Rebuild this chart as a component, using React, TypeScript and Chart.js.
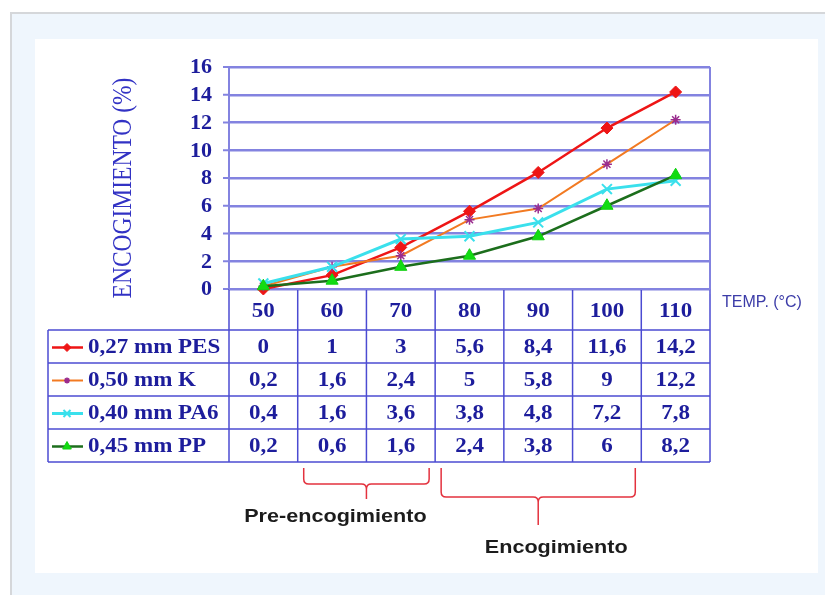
import React, { useEffect, useRef } from "react";
import { Chart, registerables } from "chart.js";
import { drawPoint } from "chart.js/helpers";

Chart.register(...registerables);

// ---------------- data ----------------
const temperatures = ["50", "60", "70", "80", "90", "100", "110"];
const seriesNames = ["0,27 mm PES", "0,50 mm K", "0,40 mm PA6", "0,45 mm PP"];
const pesValues = [0, 1, 3, 5.6, 8.4, 11.6, 14.2];
const kValues = [0.2, 1.6, 2.4, 5, 5.8, 9, 12.2];
const pa6Values = [0.4, 1.6, 3.6, 3.8, 4.8, 7.2, 7.8];
const ppValues = [0.2, 0.6, 1.6, 2.4, 3.8, 6, 8.2];
const yMin = 0;
const yMax = 16;
const yStep = 2;
const yAxisTitle = "ENCOGIMIENTO (%)";
const xAxisTitle = "TEMP. (°C)";
const phaseLabels = ["Pre-encogimiento", "Encogimiento"];
const phaseFrom = ["60", "80"];
const phaseTo = ["70", "100"];

// ---------------- styles / layout ----------------
const W = 825;
const H = 595;
const HEADER_H = 41;
const ROW_H = 33;
const LEGEND_LEFT = 48;
const GRID = "#8383e0";
const TABLE_LINE = "#4b4bd2";
const TEXT_BLUE = "#1d1d9c";
const SERIF = "'Liberation Serif', 'Times New Roman', serif";
const SANS = "'Liberation Sans', Arial, sans-serif";

const seriesStyles = [
  { line: "#ee1515", width: 2.5, pointStyle: "rectRot", radius: 6, fill: "#ee1515", stroke: "#ee1515", pbw: 1 },
  { line: "#f27a22", width: 2, pointStyle: "star", radius: 5, fill: "#9a2c8e", stroke: "#9a2c8e", pbw: 1.5 },
  { line: "#3ae0ec", width: 3, pointStyle: "crossRot", radius: 7, fill: "#3ae0ec", stroke: "#3ae0ec", pbw: 2 },
  { line: "#1c6e1c", width: 2.5, pointStyle: "triangle", radius: 7, fill: "#12dc12", stroke: "#12d012", pbw: 1 },
];
const seriesValues = [pesValues, kValues, pa6Values, ppValues];
const bracketGeom = [
  { top: 468, bar: 484, tip: 499, textDx: -31, textY: 517 },
  { top: 468, bar: 497, tip: 525, textDx: 18, textY: 548 },
];

const fmt = (v: number) => String(v).replace(".", ",");

function txt(
  ctx: CanvasRenderingContext2D,
  s: string,
  x: number,
  y: number,
  font: string,
  color: string,
  align: CanvasTextAlign,
  sx = 1
) {
  ctx.save();
  ctx.font = font;
  ctx.fillStyle = color;
  ctx.textAlign = align;
  ctx.textBaseline = "middle";
  ctx.translate(x, y);
  ctx.scale(sx, 1);
  ctx.fillText(s, 0, 0);
  ctx.restore();
}

function line(ctx: CanvasRenderingContext2D, x1: number, y1: number, x2: number, y2: number) {
  ctx.beginPath();
  ctx.moveTo(x1, y1);
  ctx.lineTo(x2, y2);
  ctx.stroke();
}

const backgroundPlugin = {
  id: "bgPanel",
  beforeDraw(chart: any) {
    const ctx = chart.ctx as CanvasRenderingContext2D;
    ctx.save();
    ctx.fillStyle = "#ffffff";
    ctx.fillRect(0, 0, W, H);
    ctx.fillStyle = "#eff6fd";
    ctx.fillRect(10, 12, W, H);
    ctx.strokeStyle = "#d5d7da";
    ctx.lineWidth = 2;
    ctx.strokeRect(11, 13, W + 10, H + 10);
    ctx.fillStyle = "#ffffff";
    ctx.fillRect(35, 39, 818 - 35, 573 - 39);
    ctx.restore();
  },
};

const tablePlugin = {
  id: "dataTable",
  beforeDatasetsDraw(chart: any) {
    const ctx = chart.ctx as CanvasRenderingContext2D;
    const area = chart.chartArea;
    const xs = chart.scales.x;
    const ys = chart.scales.y;
    const n = temperatures.length;
    const centers = temperatures.map((_, i) => xs.getPixelForValue(i));
    const half = n > 1 ? (centers[1] - centers[0]) / 2 : (area.right - area.left) / 2;
    const bounds: number[] = [area.left];
    for (let i = 0; i < n - 1; i++) bounds.push((centers[i] + centers[i + 1]) / 2);
    bounds.push(area.right);

    ctx.save();
    // y tick marks & axis borders
    ctx.strokeStyle = GRID;
    ctx.lineWidth = 2;
    ys.ticks.forEach((t: any) => {
      const py = ys.getPixelForValue(t.value);
      line(ctx, area.left - 6, py, area.left, py);
    });
    line(ctx, area.left, area.top, area.left, area.bottom);
    line(ctx, area.right, area.top, area.right, area.bottom);

    // table grid
    const tableTop = area.bottom;
    const headBottom = tableTop + HEADER_H;
    const tableBottom = headBottom + ROW_H * seriesNames.length;
    ctx.strokeStyle = TABLE_LINE;
    ctx.lineWidth = 1.5;
    bounds.forEach((bx) => line(ctx, bx, tableTop, bx, tableBottom));
    line(ctx, LEGEND_LEFT, headBottom, LEGEND_LEFT, tableBottom);
    for (let r = 0; r <= seriesNames.length; r++) {
      const ry = headBottom + r * ROW_H;
      line(ctx, LEGEND_LEFT, ry, area.right, ry);
    }
    ctx.strokeStyle = GRID;
    ctx.lineWidth = 2;
    line(ctx, area.left, tableTop, area.right, tableTop);
    ctx.lineWidth = 1;
    line(ctx, area.right, tableTop, area.right, tableTop + 5);

    // y tick labels
    ys.ticks.forEach((t: any) => {
      const py = ys.getPixelForValue(t.value);
      txt(ctx, String(t.value), area.left - 17, py + 1, `bold 21px ${SERIF}`, TEXT_BLUE, "right", 1.05);
    });

    // y axis title
    ctx.save();
    ctx.translate(124, (area.top + area.bottom) / 2 + 10);
    ctx.rotate(-Math.PI / 2);
    ctx.scale(1, 1.15);
    ctx.font = `23.5px ${SERIF}`;
    ctx.fillStyle = "#3232c4";
    ctx.textAlign = "center";
    ctx.textBaseline = "middle";
    ctx.fillText(yAxisTitle, 0, 0);
    ctx.restore();

    // x axis title
    txt(ctx, xAxisTitle, area.right + 12, area.bottom + 14, `16px ${SANS}`, "#3c3ca8", "left", 1);

    // header labels
    temperatures.forEach((lab, i) => {
      txt(ctx, lab, centers[i], tableTop + HEADER_H / 2 + 2, `bold 20px ${SERIF}`, TEXT_BLUE, "center", 1.15);
    });

    // rows
    seriesNames.forEach((name, r) => {
      const cy = headBottom + r * ROW_H + ROW_H / 2 + 1;
      const st = seriesStyles[r];
      ctx.strokeStyle = st.line;
      ctx.lineWidth = st.width;
      line(ctx, LEGEND_LEFT + 4, cy, LEGEND_LEFT + 35, cy);
      ctx.fillStyle = st.fill;
      ctx.strokeStyle = st.stroke;
      ctx.lineWidth = st.pbw;
      drawPoint(ctx, { pointStyle: st.pointStyle as any, rotation: 0, radius: st.radius - 2, borderWidth: st.pbw }, LEGEND_LEFT + 19, cy);
      txt(ctx, name, LEGEND_LEFT + 40, cy, `bold 20px ${SERIF}`, TEXT_BLUE, "left", 1.15);
      seriesValues[r].forEach((v, i) => {
        txt(ctx, fmt(v), centers[i], cy, `bold 20px ${SERIF}`, TEXT_BLUE, "center", 1.15);
      });
    });

    // brackets
    ctx.strokeStyle = "#e3323e";
    ctx.lineWidth = 1.5;
    phaseLabels.forEach((lab, k) => {
      const a = temperatures.indexOf(phaseFrom[k]);
      const b = temperatures.indexOf(phaseTo[k]);
      const g = bracketGeom[k];
      const left = centers[a] - half + 6;
      const right = centers[b] + half - 6;
      const mid = (left + right) / 2;
      const rr = 5;
      ctx.beginPath();
      ctx.moveTo(left, g.top);
      ctx.lineTo(left, g.bar - rr);
      ctx.quadraticCurveTo(left, g.bar, left + rr, g.bar);
      ctx.lineTo(mid - rr, g.bar);
      ctx.quadraticCurveTo(mid, g.bar, mid, g.bar + rr);
      ctx.lineTo(mid, g.tip);
      ctx.moveTo(mid, g.bar + rr);
      ctx.quadraticCurveTo(mid, g.bar, mid + rr, g.bar);
      ctx.lineTo(right - rr, g.bar);
      ctx.quadraticCurveTo(right, g.bar, right, g.bar - rr);
      ctx.lineTo(right, g.top);
      ctx.stroke();
      txt(ctx, lab, mid + g.textDx, g.textY, `bold 18px ${SANS}`, "#1c1c1c", "center", 1.2);
    });
    ctx.restore();
  },
};

export default function App() {
  const ref = useRef<HTMLCanvasElement | null>(null);

  useEffect(() => {
    if (!ref.current) return;
    const chart = new Chart(ref.current, {
      type: "line",
      data: {
        labels: temperatures,
        datasets: seriesNames.map((name, i) => {
          const st = seriesStyles[i];
          return {
            label: name,
            data: seriesValues[i],
            borderColor: st.line,
            backgroundColor: st.fill,
            borderWidth: st.width,
            pointStyle: st.pointStyle as any,
            pointRadius: st.radius,
            pointBackgroundColor: st.fill,
            pointBorderColor: st.stroke,
            pointBorderWidth: st.pbw,
            tension: 0,
            fill: false,
            clip: false as any,
            order: seriesNames.length - i,
          };
        }),
      },
      options: {
        animation: false,
        responsive: false,
        maintainAspectRatio: false,
        layout: { padding: { left: 229, top: 67, right: W - 710, bottom: H - 289 } },
        plugins: { legend: { display: false }, tooltip: { enabled: false }, title: { display: false } },
        scales: {
          x: {
            type: "category",
            offset: true,
            grid: { display: false, drawTicks: false },
            border: { display: false },
            ticks: { display: false },
            afterFit: (s: any) => {
              s.height = 0;
            },
          },
          y: {
            min: yMin,
            max: yMax,
            ticks: { display: false, stepSize: yStep },
            grid: { color: GRID, lineWidth: 2.5, drawTicks: false },
            border: { display: false },
            afterFit: (s: any) => {
              s.width = 0;
            },
          },
        },
      },
      plugins: [backgroundPlugin, tablePlugin],
    });
    return () => chart.destroy();
  }, []);

  return (
    <div style={{ position: "absolute", left: 0, top: 0, width: W, height: H }}>
      <canvas ref={ref} width={W} height={H} style={{ display: "block", width: W, height: H }} />
    </div>
  );
}
